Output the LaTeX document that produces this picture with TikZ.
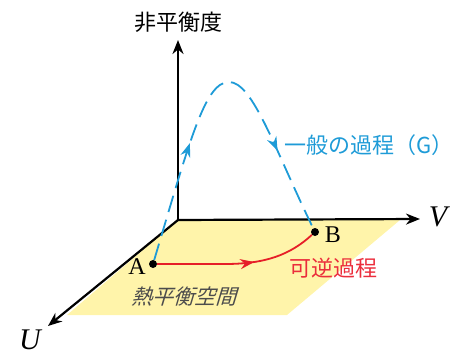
\documentclass[tikz,border=0pt]{standalone}
\usepackage{fontspec}
\newfontfamily\jp{Noto Sans CJK JP}
\setmainfont{Liberation Serif}
\usetikzlibrary{arrows.meta,decorations.markings}
\definecolor{cblue}{RGB}{30,155,215}
\definecolor{cred}{RGB}{230,30,40}
\definecolor{lred}{RGB}{235,45,60}
\definecolor{cyel}{RGB}{255,244,170}
\tikzset{
  axis/.style={line width=2.2pt,-{Stealth[length=14pt,width=11pt]}},
  dot/.style={circle,fill=black,inner sep=0pt,minimum size=8pt},
  jplabel/.style={font=\jp\fontsize{22}{24}\selectfont},
  twoarrows/.style 2 args={postaction={decorate,solid},decoration={markings,
     mark=at position #1 with {\arrow{Stealth[length=14pt,width=10pt]}},
     mark=at position #2 with {\arrow{Stealth[length=14pt,width=10pt]}}}},
  onearrow/.style={postaction={decorate},decoration={markings,
     mark=at position #1 with {\arrow{Stealth[length=14pt,width=10pt]}}}}
}
\begin{document}
\begin{tikzpicture}[x=1pt,y=-1pt]
\useasboundingbox (0,0) rectangle (456,356);
\fill[cyel] (178,220) -- (400,220) -- (287,315) -- (67,315) -- cycle;
\coordinate (O) at (178,220);
\coordinate (Ztip) at (178,40);
\coordinate (Vtip) at (420,219);
\coordinate (Utip) at (48,326);
\draw[axis] ([yshift=1.1pt]O) -- (Ztip);
\draw[axis] ([xshift=-1.1pt]O) -- (Vtip);
\draw[axis] (O) -- (Utip);
\node[jplabel] (zl) at (178,22) {非平衡度};
\node[font=\fontsize{30}{32}\selectfont\itshape] (vl) at (438,217) {V};
\node[font=\fontsize{30}{32}\selectfont\itshape] (ul) at (30,340) {U};
\node[dot] (A) at (153,264) {};
\node[dot] (B) at (315,232) {};
\node[font=\fontsize{24}{26}\selectfont] (al) at (137,267) {A};
\node[font=\fontsize{24}{26}\selectfont] (bl) at (333,235) {B};
\draw[cblue,line width=1.8pt,dash pattern=on 17pt off 8pt,twoarrows={0.33}{0.77}]
  (A) .. controls (190,140) and (205,82) .. (229,82) .. controls (253,82) and (275,150) .. (B);
\draw[cred,line width=1.8pt,onearrow=0.6]
  (A) -- (225,264) .. controls (265,264) and (290,255) .. (B);
\node[jplabel,text=cblue,anchor=west] (gl) at (281,145) {一般の過程（G）};
\node[jplabel,text=lred,anchor=west] (rl) at (286,268) {可逆過程};
\node[jplabel,text=black!70,xslant=0.3,font=\jp\fontsize{21}{23}\selectfont] (pl) at (186,297) {熱平衡空間};
\end{tikzpicture}
\end{document}
